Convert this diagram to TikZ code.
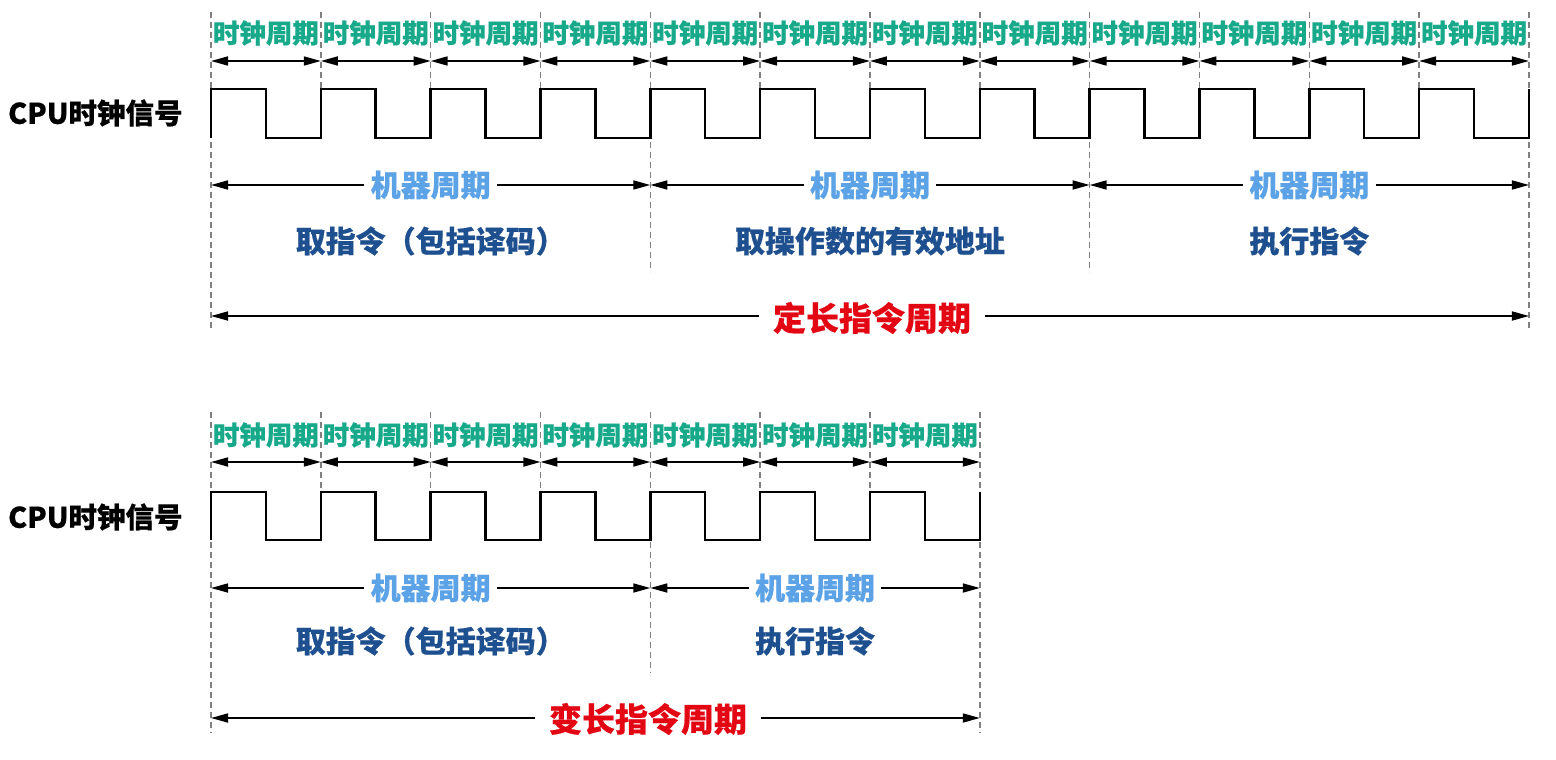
\documentclass[tikz,border=0pt]{standalone}
\usepackage{fontspec}
\setmainfont{Noto Sans CJK SC}[BoldFeatures={FakeBold=0.5}]
\usetikzlibrary{arrows.meta}
\definecolor{clkcol}{HTML}{17A98A}
\definecolor{machcol}{HTML}{5BA3E6}
\definecolor{phasecol}{HTML}{1E4F8F}
\definecolor{instrcol}{HTML}{E30613}
\definecolor{guidecol}{HTML}{808080}
\begin{document}
\begin{tikzpicture}[x=1pt,y=-1pt,
  guide/.style={draw=guidecol, line width=1.4pt, dash pattern=on 6pt off 4pt},
  wave/.style={line width=2.5pt, line join=miter},
  span/.style={line width=1.7pt, {Triangle[length=17pt,width=9pt]}-{Triangle[length=17pt,width=9pt]}},
  halfspan/.style={line width=1.7pt, -{Triangle[length=17pt,width=9pt]}},
  clklbl/.style={font=\fontsize{26.5}{28}\selectfont\bfseries, text=clkcol, inner sep=0pt},
  machlbl/.style={font=\fontsize{30}{32}\selectfont\bfseries, text=machcol, fill=white, inner xsep=6pt, inner ysep=0pt},
  phaselbl/.style={font=\fontsize{30}{32}\selectfont\bfseries, text=phasecol, inner sep=0pt},
  instrlbl/.style={font=\fontsize{33}{35}\selectfont\bfseries, text=instrcol, fill=white, inner xsep=14pt, inner ysep=0pt},
  cpulbl/.style={font=\fontsize{28.5}{30}\selectfont\bfseries, text=black, inner sep=0pt, anchor=west}
]
\useasboundingbox (0,0) rectangle (1556,760);
\def\P{109.83}
\def\X{211}
% ================= TOP (fixed length) =================
\foreach \i in {1,2,3,5,6,7,9,10,11} {
  \draw[guide] ({\X+\i*\P},12) -- ({\X+\i*\P},89);
}
\foreach \i in {4,8} {
  \draw[guide] ({\X+\i*\P},12) -- ({\X+\i*\P},272);
}
\foreach \i in {0,12} {
  \draw[guide] ({\X+\i*\P},12) -- ({\X+\i*\P},330);
}
\foreach \i in {0,...,12} {
  \coordinate (ta\i) at ({\X+\i*\P},61);
}
\foreach \i in {1,...,12} {
  \pgfmathtruncatemacro{\j}{\i-1}
  \node[clklbl] (tc\i) at ({\X+(\i-0.5)*\P},33) {时钟周期};
  \draw[span] (ta\j) -- (ta\i);
}
\node[cpulbl] (cpuA) at (8,113) {CPU时钟信号};
\draw[wave] (\X,138) -- (\X,89)
  \foreach \i in {0,...,11} {
    -- ({\X+\i*\P+\P/2},89) -- ({\X+\i*\P+\P/2},138)
    -- ({\X+(\i+1)*\P},138) -- ({\X+(\i+1)*\P},89)
  };
\foreach \i in {0,4,8,12} {
  \coordinate (tm\i) at ({\X+\i*\P},185);
}
\node[machlbl] (tmA1) at ({\X+2*\P},185) {机器周期};
\draw[halfspan] (tmA1) -- (tm0);
\draw[halfspan] (tmA1) -- (tm4);
\node[machlbl] (tmA2) at ({\X+6*\P},185) {机器周期};
\draw[halfspan] (tmA2) -- (tm4);
\draw[halfspan] (tmA2) -- (tm8);
\node[machlbl] (tmA3) at ({\X+10*\P},185) {机器周期};
\draw[halfspan] (tmA3) -- (tm8);
\draw[halfspan] (tmA3) -- (tm12);
\node[phaselbl] (tpA1) at ({\X+2*\P},241) {取指令（包括译码）};
\node[phaselbl] (tpA2) at ({\X+6*\P},241) {取操作数的有效地址};
\node[phaselbl] (tpA3) at ({\X+10*\P},241) {执行指令};
\coordinate (tiL) at (\X,316);
\coordinate (tiR) at ({\X+12*\P},316);
\node[instrlbl] (tiA) at (872,318) {定长指令周期};
\draw[halfspan] (tiA.west |- tiL) -- (tiL);
\draw[halfspan] (tiA.east |- tiR) -- (tiR);

% ================= BOTTOM (variable length) =================
\foreach \i in {1,2,3,5,6} {
  \draw[guide] ({\X+\i*\P},412) -- ({\X+\i*\P},492);
}
\draw[guide] ({\X+4*\P},412) -- ({\X+4*\P},673);
\foreach \i in {0,7} {
  \draw[guide] ({\X+\i*\P},412) -- ({\X+\i*\P},733);
}
\foreach \i in {0,...,7} {
  \coordinate (ba\i) at ({\X+\i*\P},462);
}
\foreach \i in {1,...,7} {
  \pgfmathtruncatemacro{\j}{\i-1}
  \node[clklbl] (bc\i) at ({\X+(\i-0.5)*\P},435) {时钟周期};
  \draw[span] (ba\j) -- (ba\i);
}
\node[cpulbl] (cpuB) at (8,517) {CPU时钟信号};
\draw[wave] (\X,540) -- (\X,492)
  \foreach \i in {0,...,6} {
    -- ({\X+\i*\P+\P/2},492) -- ({\X+\i*\P+\P/2},540)
    -- ({\X+(\i+1)*\P},540) -- ({\X+(\i+1)*\P},492)
  };
\foreach \i in {0,4,7} {
  \coordinate (bm\i) at ({\X+\i*\P},588);
}
\node[machlbl] (bmB1) at ({\X+2*\P},588) {机器周期};
\draw[halfspan] (bmB1) -- (bm0);
\draw[halfspan] (bmB1) -- (bm4);
\node[machlbl] (bmB2) at ({\X+5.5*\P},588) {机器周期};
\draw[halfspan] (bmB2) -- (bm4);
\draw[halfspan] (bmB2) -- (bm7);
\node[phaselbl] (bpB1) at ({\X+2*\P},641) {取指令（包括译码）};
\node[phaselbl] (bpB2) at ({\X+5.5*\P},641) {执行指令};
\coordinate (biL) at (\X,718);
\coordinate (biR) at ({\X+7*\P},718);
\node[instrlbl] (biB) at (648,719) {变长指令周期};
\draw[halfspan] (biB.west |- biL) -- (biL);
\draw[halfspan] (biB.east |- biR) -- (biR);
\end{tikzpicture}
\end{document}
